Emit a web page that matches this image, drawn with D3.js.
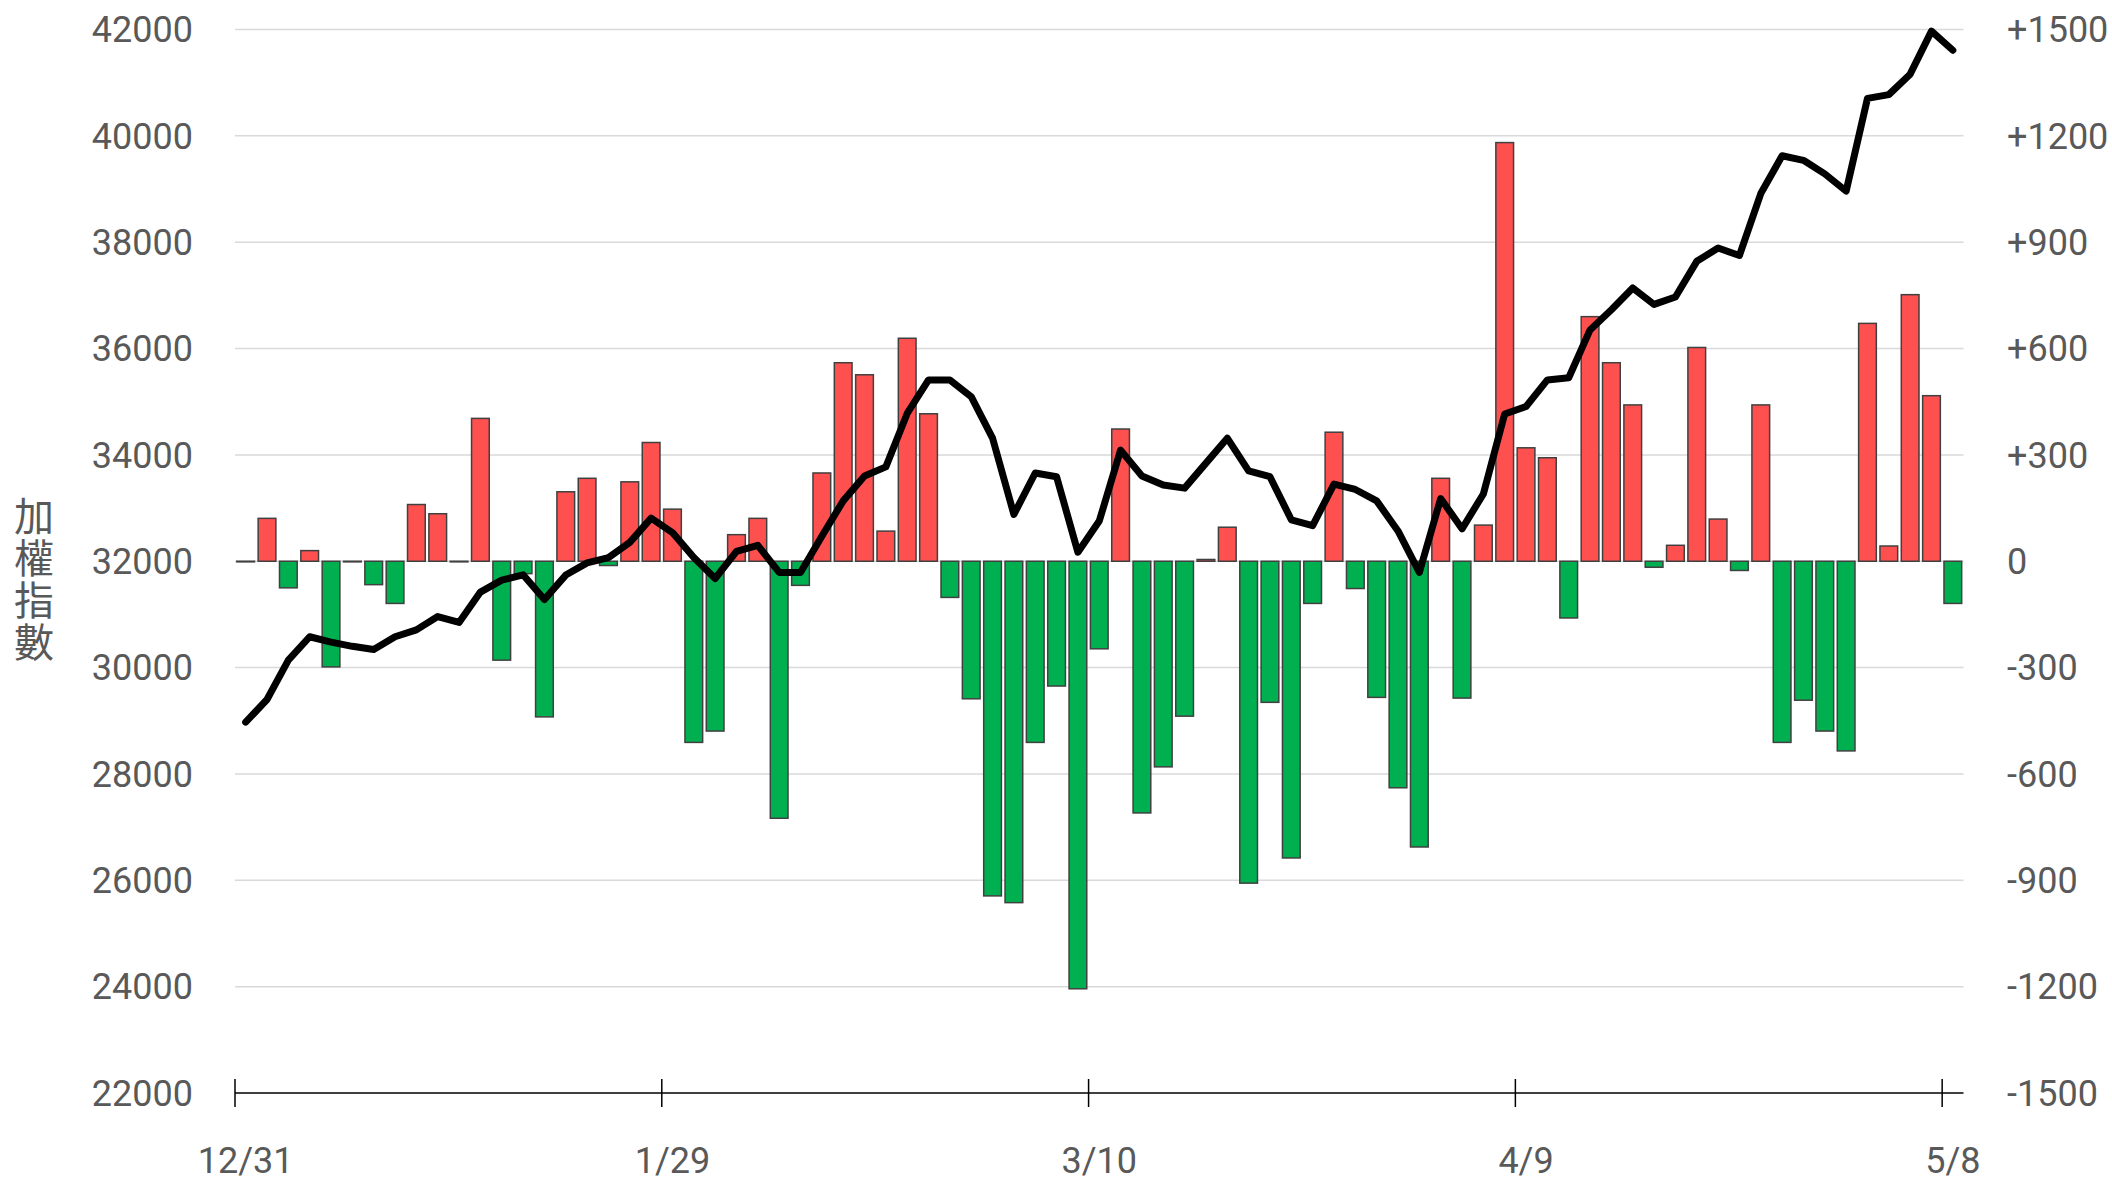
<!DOCTYPE html>
<html>
<head>
<meta charset="utf-8">
<script src="https://cdn.jsdelivr.net/npm/d3@7"></script>
<style>
  body { margin: 0; background: #fff; }
  text { font-family: Roboto, sans-serif; fill: #595959; }
</style>
</head>
<body>
<svg id="drawing_region"></svg>
<script>
// index level (line, left axis)
const indexValues = [
    28975, 29400, 30140, 30580, 30480, 30400, 30340, 30580, 30710, 30960,
    30850, 31420, 31645, 31745, 31280, 31740, 31970, 32070, 32355, 32810,
    32540, 32070, 31675, 32185, 32300, 31790, 31790, 32470, 33135, 33605,
    33775, 34780, 35410, 35410, 35095, 34315, 32880, 33660, 33590, 32170,
    32755, 34090, 33605, 33435, 33375, 33845, 34315, 33700, 33590, 32780,
    32670, 33450, 33350, 33135, 32570, 31790, 33180, 32610, 33265, 34770,
    34910, 35410, 35450, 36350, 36730, 37140, 36830, 36970, 37640, 37890,
    37750, 38915, 39625, 39540, 39285, 38960, 40705, 40775, 41160, 41970,
    41610
];
// change (bars, right axis)
const changeValues = [
    0, 121, -75, 30, -298, 0, -66, -119, 160, 134,
    0, 403, -279, -35, -439, 196, 234, -12, 224, 335,
    147, -511, -479, 75, 121, -725, -68, 249, 560, 526,
    85, 629, 416, -102, -388, -944, -963, -511, -352, -1206,
    -247, 373, -710, -580, -437, 5, 96, -908, -398, -837,
    -119, 364, -77, -384, -639, -806, 234, -386, 102, 1181,
    320, 292, -160, 690, 560, 441, -17, 45, 603, 119,
    -26, 441, -511, -392, -479, -535, 671, 43, 752, 467,
    -119
];
const tickIndex = [0, 20, 40, 60, 80];
const tickLabels = ['12/31', '1/29', '3/10', '4/9', '5/8'];
const leftTicks = [22000, 24000, 26000, 28000, 30000, 32000, 34000, 36000, 38000, 40000, 42000];
const rightTicks = [-1500, -1200, -900, -600, -300, 0, 300, 600, 900, 1200, 1500];
const axisTitle = '加權指數';

const config = {
    width: 2112,
    height: 1183,
    left: 235,
    right: 1963.5,
    top: 29.5,
    bottom: 1093,
};

const svg = d3.select('#drawing_region')
    .attr('width', config.width)
    .attr('height', config.height);

const data = indexValues.map((v, i) => ({ i: i, index: v, change: changeValues[i] }));

const x = d3.scaleBand()
    .domain(data.map(d => d.i))
    .range([config.left, config.right])
    .paddingInner(0.17)
    .paddingOuter(0.085);
const bw = x.bandwidth();
const edge = i => x(i) - x.step() * 0.085;   // left edge of a slot

const yL = d3.scaleLinear().domain([22000, 42000]).range([config.bottom, config.top]);
const yR = d3.scaleLinear().domain([-1500, 1500]).range([config.bottom, config.top]);

// gridlines
svg.append('g')
    .selectAll('line')
    .data(leftTicks.slice(1))
    .join('line')
    .attr('x1', config.left)
    .attr('x2', config.right)
    .attr('y1', d => yL(d))
    .attr('y2', d => yL(d))
    .attr('stroke', '#d9d9d9')
    .attr('stroke-width', 1.5);

// left labels
svg.append('g')
    .selectAll('text')
    .data(leftTicks)
    .join('text')
    .attr('x', 193)
    .attr('y', d => yL(d))
    .attr('dy', '0.355em')
    .attr('text-anchor', 'end')
    .style('font-size', '36px')
    .text(d => d);

// right labels
svg.append('g')
    .selectAll('text')
    .data(rightTicks)
    .join('text')
    .attr('x', 2007)
    .attr('y', d => yR(d))
    .attr('dy', '0.355em')
    .attr('text-anchor', 'start')
    .style('font-size', '36px')
    .text(d => d > 0 ? '+' + d : d);

// bars (flat ones still get a visible outline)
svg.append('g')
    .selectAll('rect')
    .data(data)
    .join('rect')
    .attr('x', d => x(d.i))
    .attr('width', bw)
    .attr('y', d => yR(Math.max(0, d.change)))
    .attr('height', d => Math.max(0.6, Math.abs(yR(d.change) - yR(0))))
    .attr('fill', d => d.change >= 0 ? '#ff5050' : '#00b050')
    .attr('stroke', '#404040')
    .attr('stroke-width', 1.5);

// index line
const line = d3.line()
    .x(d => x(d.i) + bw / 2)
    .y(d => yL(d.index));
svg.append('path')
    .datum(data)
    .attr('d', line)
    .attr('fill', 'none')
    .attr('stroke', '#000')
    .attr('stroke-width', 7)
    .attr('stroke-linejoin', 'round')
    .attr('stroke-linecap', 'round');

// bottom axis
svg.append('line')
    .attr('x1', config.left)
    .attr('x2', config.right)
    .attr('y1', config.bottom)
    .attr('y2', config.bottom)
    .attr('stroke', '#000')
    .attr('stroke-width', 1.5);
svg.append('g')
    .selectAll('line')
    .data(tickIndex)
    .join('line')
    .attr('x1', d => edge(d))
    .attr('x2', d => edge(d))
    .attr('y1', config.bottom - 14)
    .attr('y2', config.bottom + 14)
    .attr('stroke', '#000')
    .attr('stroke-width', 1.5);
svg.append('g')
    .selectAll('text')
    .data(tickIndex)
    .join('text')
    .attr('x', d => x(d) + bw / 2)
    .attr('y', 1173)
    .attr('text-anchor', 'middle')
    .style('font-size', '36px')
    .text((d, k) => tickLabels[k]);

// vertical axis title, one text in vertical writing mode
svg.append('text')
    .style('font-family', '"Noto Sans CJK TC", sans-serif')
    .style('font-size', '40px')
    .style('writing-mode', 'vertical-rl')
    .style('text-orientation', 'upright')
    .style('letter-spacing', '2px')
    .attr('text-anchor', 'middle')
    .attr('x', 34)
    .attr('y', 580)
    .text(axisTitle);
</script>
</body>
</html>
